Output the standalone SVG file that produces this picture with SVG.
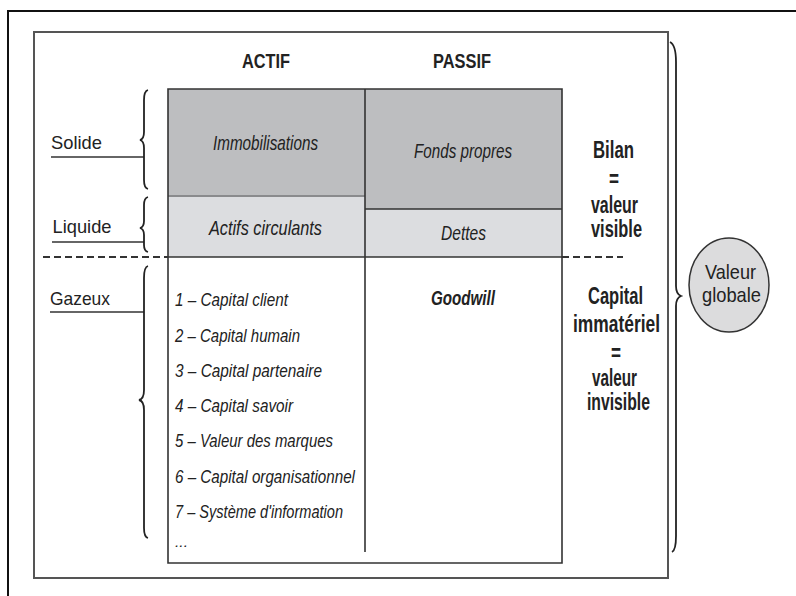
<svg xmlns="http://www.w3.org/2000/svg" width="796" height="596" viewBox="0 0 796 596">
<style>
.t{font-family:"Liberation Sans Narrow","Liberation Sans",Arial,sans-serif;fill:#222;}
.r{font-size:19px;}
.h{font-size:20px;font-weight:bold;}
.i{font-size:21px;font-style:italic;}
.li{font-size:19px;font-style:italic;}
.b{font-size:23px;font-weight:bold;}
.c{font-size:21px;}
.ln{stroke:#333;stroke-width:1.6;fill:none;}
.br{stroke:#222;stroke-width:1.8;fill:none;}
.dash{stroke:#333;stroke-width:2;stroke-dasharray:7 4;fill:none;}
</style>
<rect width="796" height="596" fill="#fff"/>
<path d="M8,596 L8,11 L796,11" stroke="#111" stroke-width="2" fill="none"/>
<rect id="frame" x="34" y="32" width="634" height="546" fill="none" stroke="#555" stroke-width="2"/>

<g id="headers">
<text class="t h" x="242" y="68" textLength="48" lengthAdjust="spacingAndGlyphs">ACTIF</text>
<text class="t h" x="433" y="68" textLength="58" lengthAdjust="spacingAndGlyphs">PASSIF</text>
</g>

<g id="immobilisations">
<rect x="168" y="89" width="197" height="107" fill="#bdbec0"/>
<text class="t i" x="213" y="150" textLength="105" lengthAdjust="spacingAndGlyphs">Immobilisations</text>
</g>
<g id="actifs-circulants">
<rect x="168" y="196" width="197" height="61" fill="#dcdde0"/>
<line x1="168" y1="196" x2="365" y2="196" stroke="#8a8b8d" stroke-width="2"/>
<text class="t i" x="209" y="235" textLength="113" lengthAdjust="spacingAndGlyphs">Actifs circulants</text>
</g>
<g id="fonds-propres">
<rect x="365" y="89" width="197" height="120" fill="#bdbec0"/>
<text class="t i" x="414" y="158" textLength="98" lengthAdjust="spacingAndGlyphs">Fonds propres</text>
</g>
<g id="dettes">
<rect x="365" y="209" width="197" height="48" fill="#dcdde0"/>
<line x1="365" y1="209" x2="562" y2="209" class="ln"/>
<text class="t i" x="441" y="240" textLength="45" lengthAdjust="spacingAndGlyphs">Dettes</text>
</g>

<g id="table-lines">
<path class="ln" d="M168,563 L168,89 L562,89 L562,563 Z"/>
<line class="ln" x1="365" y1="89" x2="365" y2="552"/>
<line class="ln" x1="168" y1="257" x2="562" y2="257"/>
</g>

<g id="capital-list">
<text class="t li" x="175" y="306" textLength="113" lengthAdjust="spacingAndGlyphs">1 – Capital client</text>
<text class="t li" x="175" y="342" textLength="125" lengthAdjust="spacingAndGlyphs">2 – Capital humain</text>
<text class="t li" x="175" y="377" textLength="147" lengthAdjust="spacingAndGlyphs">3 – Capital partenaire</text>
<text class="t li" x="175" y="412" textLength="118" lengthAdjust="spacingAndGlyphs">4 – Capital savoir</text>
<text class="t li" x="175" y="447" textLength="158" lengthAdjust="spacingAndGlyphs">5 – Valeur des marques</text>
<text class="t li" x="175" y="483" textLength="180" lengthAdjust="spacingAndGlyphs">6 – Capital organisationnel</text>
<text class="t li" x="175" y="518" textLength="168" lengthAdjust="spacingAndGlyphs">7 – Système d'information</text>
<text class="t li" x="175" y="547" textLength="13" lengthAdjust="spacingAndGlyphs" style="font-size:13px">...</text>
</g>

<g id="goodwill">
<text class="t i" x="431" y="305" textLength="64" lengthAdjust="spacingAndGlyphs" style="font-weight:bold;font-size:20px">Goodwill</text>
</g>

<g id="bilan">
<text class="t b" x="593" y="158" textLength="41" lengthAdjust="spacingAndGlyphs">Bilan</text>
<text class="t b" x="609" y="187" textLength="10" lengthAdjust="spacingAndGlyphs">=</text>
<text class="t b" x="591" y="213" textLength="47" lengthAdjust="spacingAndGlyphs">valeur</text>
<text class="t b" x="591" y="237" textLength="51" lengthAdjust="spacingAndGlyphs">visible</text>
</g>

<g id="capital-immateriel">
<text class="t b" x="588" y="304" textLength="55" lengthAdjust="spacingAndGlyphs">Capital</text>
<text class="t b" x="573" y="332" textLength="87" lengthAdjust="spacingAndGlyphs">immatériel</text>
<text class="t b" x="611" y="361" textLength="10" lengthAdjust="spacingAndGlyphs">=</text>
<text class="t b" x="592" y="386" textLength="45" lengthAdjust="spacingAndGlyphs">valeur</text>
<text class="t b" x="587" y="410" textLength="63" lengthAdjust="spacingAndGlyphs">invisible</text>
</g>

<g id="solide">
<text class="t r" x="51" y="149" textLength="51" lengthAdjust="spacingAndGlyphs">Solide</text>
</g>
<g id="liquide">
<text class="t r" x="52.5" y="233" textLength="59" lengthAdjust="spacingAndGlyphs">Liquide</text>
</g>
<g id="gazeux">
<text class="t r" x="50" y="305" textLength="60" lengthAdjust="spacingAndGlyphs">Gazeux</text>
</g>

<g id="valeur-globale">
<ellipse cx="729" cy="285" rx="40" ry="47" fill="#dcdcdd" stroke="#333" stroke-width="1.5"/>
<text class="t c" x="705" y="279" textLength="51" lengthAdjust="spacingAndGlyphs">Valeur</text>
<text class="t c" x="702" y="302" textLength="59" lengthAdjust="spacingAndGlyphs">globale</text>
</g>

<g id="connectors">
<line class="ln" x1="51" y1="157" x2="144" y2="157" stroke-width="2"/>
<line class="ln" x1="52" y1="242" x2="144" y2="242" stroke-width="2"/>
<line class="ln" x1="50" y1="312" x2="144" y2="312" stroke-width="2"/>
<path class="br" d="M148,90 Q144,91 144,100 L144,132 Q144,139 140,140 Q144,141 144,148 L144,180 Q144,188 148,189"/>
<path class="br" d="M148,197 Q144,198 144,205 L144,221 Q144,227 140,228 Q144,229 144,235 L144,245 Q144,251 148,252"/>
<path class="br" d="M148,266 Q144,267 144,278 L144,390 Q144,399 139,400 Q144,401 144,410 L144,528 Q144,537 148,538"/>
<path class="br" d="M670,42 Q676,45 676,62 L676,286 Q676,294 681,296 Q676,298 676,306 L676,536 Q676,550 672,552" stroke-width="2.6"/>
<line class="dash" x1="43" y1="257" x2="168" y2="257"/>
<line class="dash" x1="562" y1="257" x2="623" y2="257"/>
</g>
</svg>
